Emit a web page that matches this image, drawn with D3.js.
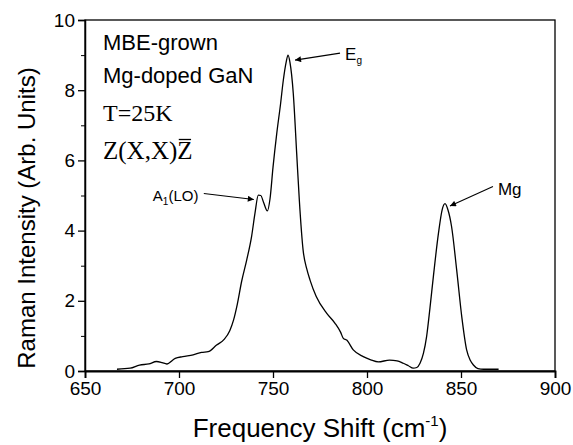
<!DOCTYPE html>
<html>
<head>
<meta charset="utf-8">
<script src="https://cdn.jsdelivr.net/npm/d3@7"></script>
<style>
  body { margin: 0; background: #fff; }
  svg { display: block; }
  text { font-family: "Liberation Sans", Arial, sans-serif; fill: #000; }
  .serif { font-family: "Liberation Serif", "Times New Roman", serif; }
</style>
</head>
<body>
<div id="chart"></div>
<script>
// Raman spectrum
var shift = [667, 674, 679, 684, 688, 691, 693.5, 698, 702, 707.5, 712, 715.5, 720, 724, 727, 729, 731,
             733.3, 736, 738.6, 740.4, 742.2, 743.5, 745, 747, 748.4, 750, 752, 754, 755.5, 757, 758, 759,
             760.8, 762.6, 764, 766, 768, 769.7, 773, 778.6, 783, 786, 787.4, 789.2, 792.7, 798, 802, 806,
             812, 816, 819.3, 822, 824.6, 826.5, 828.2, 830, 831.7, 833.5, 835.3, 838, 840, 841.5, 843, 845,
             847.7, 850.4, 853, 855, 856.6, 859, 862, 870];
var intensity = [0.05, 0.08, 0.17, 0.2, 0.27, 0.24, 0.2, 0.36, 0.41, 0.46, 0.53, 0.55, 0.74, 0.9, 1.15, 1.45, 1.9,
                 2.55, 3.16, 3.83, 4.49, 5.01, 5.0, 4.8, 4.56, 4.9, 5.8, 6.77, 7.6, 8.29, 8.8, 9.0, 8.8,
                 7.9, 6.2, 4.87, 3.45, 2.9, 2.59, 2.12, 1.64, 1.36, 1.1, 0.93, 0.88, 0.6, 0.41, 0.32, 0.26,
                 0.31, 0.29, 0.22, 0.15, 0.08, 0.1, 0.22, 0.5, 0.98, 1.8, 2.69, 3.92, 4.6, 4.77, 4.6, 4.11,
                 2.88, 1.55, 0.6, 0.3, 0.17, 0.07, 0.05, 0.05];

var xTicks = [650, 700, 750, 800, 850, 900];
var yTicks = [0, 2, 4, 6, 8, 10];
var yMinor = [1, 3, 5, 7, 9];

// peak labels: [text, subscript, peak shift, peak intensity, trailing text]
var peaks = [["A", "1", 743, 5.0, "(LO)"], ["E", "g", 758, 9.0, ""], ["Mg", "", 842, 4.77, ""]];

var width = 573, height = 445;
var margin = {top: 20, right: 18, bottom: 74, left: 85};

var svg = d3.select("#chart").append("svg")
    .attr("width", width)
    .attr("height", height);

var x = d3.scaleLinear().domain([650, 900]).range([margin.left, width - margin.right]);
var y = d3.scaleLinear().domain([0, 10]).range([height - margin.bottom, margin.top]);

// frame
svg.append("rect")
    .attr("x", x(650)).attr("y", y(10))
    .attr("width", x(900) - x(650)).attr("height", y(0) - y(10))
    .attr("fill", "none").attr("stroke", "#000").attr("stroke-width", 1.3);

// Axis X
var gx = svg.append("g")
    .attr("transform", "translate(0," + y(0) + ")")
    .call(d3.axisBottom(x).tickValues(xTicks).tickSize(7).tickPadding(4).tickFormat(d3.format("d")));
gx.select(".domain").attr("stroke-width", 1.8);
gx.selectAll(".tick line").attr("stroke-width", 1.3);
gx.selectAll("text").style("font-size", "19px");

// Axis Y
var gy = svg.append("g")
    .attr("transform", "translate(" + x(650) + ",0)")
    .call(d3.axisLeft(y).tickValues(yTicks).tickSize(7).tickPadding(3).tickFormat(d3.format("d")));
gy.select(".domain").attr("stroke-width", 1.5);
gy.selectAll(".tick line").attr("stroke-width", 1.3);
gy.selectAll("text").style("font-size", "19px");

svg.append("g")
    .attr("transform", "translate(" + x(650) + ",0)")
    .call(d3.axisLeft(y).tickValues(yMinor).tickSize(4).tickFormat(""))
    .call(function (g) { g.select(".domain").remove(); });

// Axis titles
svg.append("text")
    .attr("transform", "translate(35,218) rotate(-90)")
    .attr("text-anchor", "middle")
    .style("font-size", "24px")
    .text("Raman Intensity (Arb. Units)");

var xt = svg.append("text")
    .attr("x", 320)
    .attr("y", 437)
    .attr("text-anchor", "middle")
    .style("font-size", "26px");
xt.append("tspan").text("Frequency Shift (cm");
xt.append("tspan").attr("dy", -11).style("font-size", "15px").text("-1");
xt.append("tspan").attr("dy", 11).text(")");

// spectrum
var line = d3.line()
    .x(function (d, i) { return x(shift[i]); })
    .y(function (d) { return y(d); })
    .curve(d3.curveMonotoneX);

svg.append("path")
    .datum(intensity)
    .attr("fill", "none")
    .attr("stroke", "#000")
    .attr("stroke-width", 1.3)
    .attr("d", line);

// sample notes
svg.append("text").attr("x", 103).attr("y", 50).style("font-size", "22px").text("MBE-grown");
svg.append("text").attr("x", 103).attr("y", 83).style("font-size", "22px").text("Mg-doped GaN");
svg.append("text").attr("class", "serif").attr("x", 103).attr("y", 121).style("font-size", "24px").text("T=25K");
var zt = svg.append("text").attr("class", "serif").attr("x", 103).attr("y", 159).style("font-size", "25px")
    .text("Z(X,X)Z");
var zn = zt.node();
var z0 = zn.getStartPositionOfChar(6).x, zw = zn.getSubStringLength(6, 1);
svg.append("line")
    .attr("x1", z0 + 1.5).attr("x2", z0 + zw - 1.5)
    .attr("y1", 139.5).attr("y2", 139.5)
    .attr("stroke", "#000").attr("stroke-width", 1.3);

// arrow head
svg.append("defs").append("marker")
    .attr("id", "arr").attr("viewBox", "0 0 10 10")
    .attr("refX", 10).attr("refY", 5)
    .attr("markerWidth", 8).attr("markerHeight", 6)
    .attr("markerUnits", "userSpaceOnUse")
    .attr("orient", "auto")
    .append("path").attr("d", "M0,0L10,5L0,10z").attr("fill", "#000");

// label positions relative to peaks (offsets in px)
var labelPos = [
  {tx: -107, ty: 5, fx: -56, fy: -2, hx: -6, hy: 4, size: 15, sub: 10},
  {tx: 57, ty: 5, fx: 52, fy: -2, hx: 7, hy: 5, size: 17, sub: 10},
  {tx: 52, ty: -9, fx: 47, fy: -17, hx: 4, hy: 2.5, size: 17, sub: 10}
];

peaks.forEach(function (p, i) {
  var px = x(p[2]), py = y(p[3]), l = labelPos[i];
  svg.append("line")
      .attr("x1", px + l.fx).attr("y1", py + l.fy)
      .attr("x2", px + l.hx).attr("y2", py + l.hy)
      .attr("stroke", "#000").attr("stroke-width", 1.1)
      .attr("marker-end", "url(#arr)");
  var t = svg.append("text")
      .attr("x", px + l.tx).attr("y", py + l.ty)
      .style("font-size", l.size + "px");
  t.append("tspan").text(p[0]);
  if (p[1]) t.append("tspan").attr("dy", 4).style("font-size", l.sub + "px").text(p[1]);
  if (p[4]) t.append("tspan").attr("dy", -4).text(p[4]);
});
</script>
</body>
</html>
